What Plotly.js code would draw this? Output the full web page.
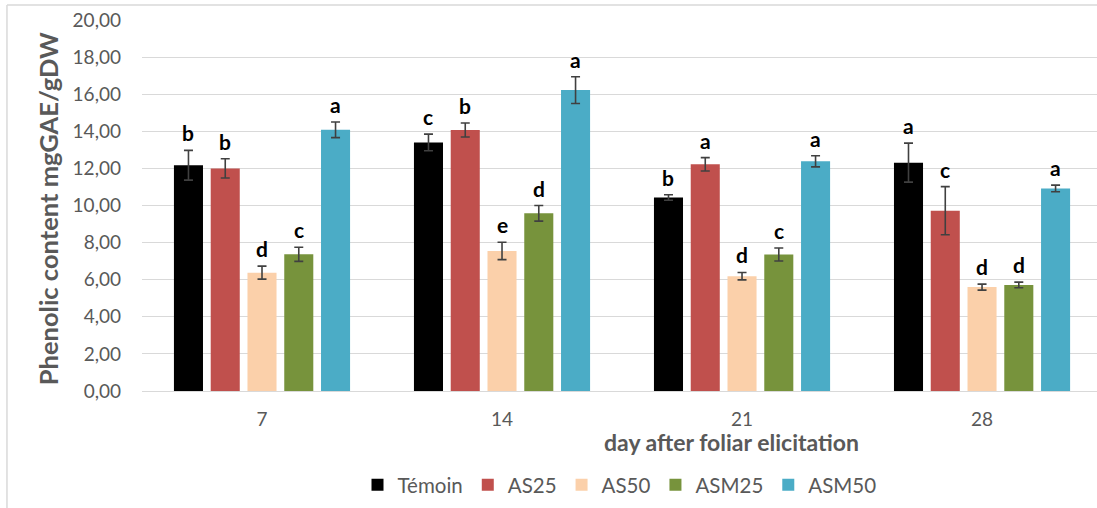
<!DOCTYPE html>
<html>
<head>
<meta charset="utf-8">
<script src="https://cdn.plot.ly/plotly-3.0.1.min.js"></script>
<style>
html,body{margin:0;padding:0;background:#fff;}
#chart{width:1097px;height:508px;}
</style>
</head>
<body>
<div id="chart"></div>
<script>
const days = ["7", "14", "21", "28"];
const seriesNames = ["Témoin", "AS25", "AS50", "ASM25", "ASM50"];
const temoin = [12.17, 13.40, 10.43, 12.31];
const as25 = [12.00, 14.07, 12.22, 9.72];
const as50 = [6.38, 7.55, 6.19, 5.60];
const asm25 = [7.37, 9.58, 7.36, 5.72];
const asm50 = [14.08, 16.22, 12.38, 10.92];
const errTemoin = [0.80, 0.45, 0.15, 1.05];
const errAs25 = [0.52, 0.38, 0.36, 1.30];
const errAs50 = [0.35, 0.47, 0.20, 0.16];
const errAsm25 = [0.38, 0.42, 0.35, 0.15];
const errAsm50 = [0.42, 0.72, 0.30, 0.18];
const lettersTemoin = ["b", "c", "b", "a"];
const lettersAs25 = ["b", "b", "a", "c"];
const lettersAs50 = ["d", "e", "d", "d"];
const lettersAsm25 = ["c", "d", "c", "d"];
const lettersAsm50 = ["a", "a", "a", "a"];
const yTicks = [0, 2, 4, 6, 8, 10, 12, 14, 16, 18, 20];

const values = [temoin, as25, as50, asm25, asm50];
const errors = [errTemoin, errAs25, errAs50, errAsm25, errAsm50];
const letters = [lettersTemoin, lettersAs25, lettersAs50, lettersAsm25, lettersAsm50];
const colors = ["#000000", "#c0504d", "#fbd0aa", "#77933c", "#4bacc6"];
const FONT = "Lato, 'Open Sans', sans-serif";

const traces = seriesNames.map((n, i) => ({
  type: "bar",
  name: n,
  x: days,
  y: values[i],
  marker: {color: colors[i]},
  error_y: {type: "data", array: errors[i], visible: true, color: "#404040", thickness: 1.6, width: 4.5},
  hoverinfo: "none"
}));

const nS = seriesNames.length;
const bargap = 0.234;
const slot = (1 - bargap) / nS;
const annotations = [];
for (let i = 0; i < nS; i++) {
  for (let j = 0; j < days.length; j++) {
    const xpos = j - (1 - bargap) / 2 + slot * (i + 0.5);
    annotations.push({
      x: xpos, y: values[i][j] + errors[i][j], xref: "x", yref: "y",
      text: "<b>" + letters[i][j] + "</b>", showarrow: false,
      yanchor: "bottom", yshift: 3,
      font: {family: FONT, size: 21, color: "#000000"}
    });
  }
}
annotations.push({
  xref: "paper", yref: "paper", x: 0.617, y: -0.137,
  text: "<b>day after foliar elicitation</b>", showarrow: false,
  xanchor: "center", yanchor: "middle",
  font: {family: FONT, size: 23, color: "#595959"}
});
annotations.push({
  xref: "paper", yref: "paper", x: -0.0984, y: 0.49,
  text: "<b>Phenolic content mgGAE/gDW</b>", showarrow: false, textangle: -90,
  xanchor: "center", yanchor: "middle",
  font: {family: FONT, size: 25.5, color: "#595959"}
});

const layout = {
  width: 1097, height: 508,
  margin: {l: 142, r: 0, t: 20, b: 117},
  paper_bgcolor: "#ffffff", plot_bgcolor: "#ffffff",
  separators: ", ",
  barmode: "group", bargap: bargap, bargroupgap: 0.21,
  font: {family: FONT, color: "#595959"},
  xaxis: {
    type: "category", range: [-0.5, 3.479],
    showgrid: false, zeroline: false, showline: false,
    ticks: "", ticklabelstandoff: 15,
    tickfont: {family: FONT, size: 19, color: "#595959"},
    fixedrange: true
  },
  yaxis: {
    range: [0, 20], tickvals: yTicks, tickformat: ".2f",
    showgrid: true, gridcolor: "#d9d9d9", gridwidth: 1,
    zeroline: true, zerolinecolor: "#d9d9d9", zerolinewidth: 1,
    showline: false, ticks: "", ticklabelstandoff: 20,
    tickfont: {family: FONT, size: 19, color: "#595959"},
    fixedrange: true
  },
  legend: {
    orientation: "h", x: 0.5, xanchor: "center", y: -0.253, yanchor: "middle",
    font: {family: FONT, size: 20.5, color: "#595959"},
    traceorder: "normal", itemwidth: 30
  },
  annotations: annotations,
  shapes: [
    {type: "line", xref: "paper", yref: "paper", x0: -0.1414, x1: 1.0, y0: 1.0404, y1: 1.0404, line: {color: "#d9d9d9", width: 1.5}},
    {type: "line", xref: "paper", yref: "paper", x0: -0.1414, x1: -0.1414, y0: 1.0404, y1: -0.33, line: {color: "#d9d9d9", width: 1.5}}
  ]
};

Plotly.newPlot("chart", traces, layout, {displayModeBar: false, staticPlot: true});
</script>
</body>
</html>
